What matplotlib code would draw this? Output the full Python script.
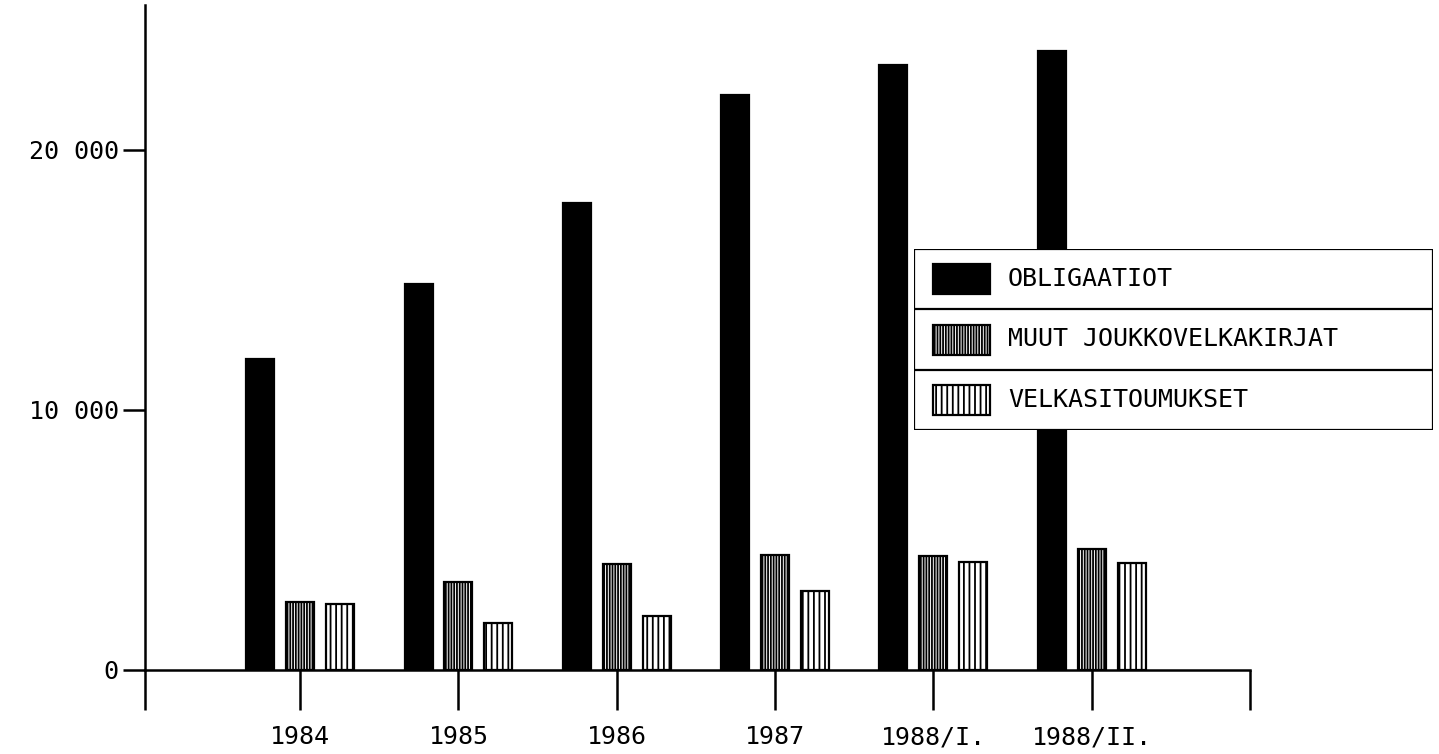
import matplotlib
matplotlib.use("Agg")
import matplotlib.pyplot as plt
from matplotlib.patches import Rectangle

# Data
years = ['1984', '1985', '1986', '1987', '1988/I.', '1988/II.']
obligaatiot = [11940, 14810, 17930, 22080, 23250, 23790]
muut_joukkovelkakirjat = [2610, 3380, 4045, 4400, 4365, 4640]
velkasitoumukset = [2520, 1775, 2060, 3030, 4145, 4100]

series_names = ['OBLIGAATIOT', 'MUUT JOUKKOVELKAKIRJAT', 'VELKASITOUMUKSET']
y_ticks = [0, 10000, 20000]
y_tick_labels = ['0', '10 000', '20 000']

plt.rcParams['font.family'] = ['DejaVu Sans Mono', 'DejaVu Sans']
plt.rcParams['hatch.linewidth'] = 1.3
plt.rcParams['hatch.color'] = 'black'

fig = plt.figure(figsize=(14.39, 7.54), dpi=100)
W, H = 1439, 754
ax = fig.add_axes([145 / W, 84.5 / H, (1250 - 145) / W, (669.5 - 5) / H])

x = list(range(len(years)))
bw = 0.177
off = 0.252
styles = [
    dict(color='black', edgecolor='black', hatch=None),
    dict(color='white', edgecolor='black', hatch='||||||'),
    dict(color='white', edgecolor='black', hatch='|||'),
]
for k, vals in enumerate([obligaatiot, muut_joukkovelkakirjat, velkasitoumukset]):
    ax.bar([xi + (k - 1) * off - off / 2 + off / 2 for xi in x], vals, width=bw,
           facecolor=styles[k]['color'], edgecolor=styles[k]['edgecolor'],
           hatch=styles[k]['hatch'], linewidth=1.6, zorder=2)

ax.set_xlim(-0.98, 6.0)
ax.set_ylim(0, 25560)

for s in ['top', 'right']:
    ax.spines[s].set_visible(False)
ax.spines['left'].set_linewidth(1.8)
ax.spines['bottom'].set_linewidth(1.8)

ax.set_xticks([-0.98] + x + [6.0])
ax.set_xticklabels([''] + years + [''], fontsize=18)
ax.tick_params(axis='x', direction='out', length=29, width=1.8, pad=11)
ax.set_yticks(y_ticks)
ax.set_yticklabels(y_tick_labels, fontsize=18)
ax.tick_params(axis='y', direction='out', length=16, width=1.8, pad=3)

# Legend box drawn in pixel units
lx0, ly_top, lw, lh = 914, 249, 519, 181
lax = fig.add_axes([lx0 / W, (H - ly_top - lh) / H, lw / W, lh / H])
lax.set_xlim(0, lw)
lax.set_ylim(lh, 0)
lax.axis('off')
lax.add_patch(Rectangle((0, 0), lw, lh, facecolor='white', edgecolor='black',
                        linewidth=1.6, zorder=1))
row_h = lh / 3
for r in range(1, 3):
    lax.plot([0, lw], [r * row_h, r * row_h], color='black', lw=1.6, zorder=2)
for r, name in enumerate(series_names):
    cy = (r + 0.5) * row_h
    lax.add_patch(Rectangle((19, cy - 15), 57, 30, facecolor=styles[r]['color'],
                            edgecolor='black', hatch=styles[r]['hatch'],
                            linewidth=1.6, zorder=3))
    lax.text(94, cy, name, fontsize=18, va='center', ha='left', zorder=4)

fig.savefig('out.png', dpi=100)
